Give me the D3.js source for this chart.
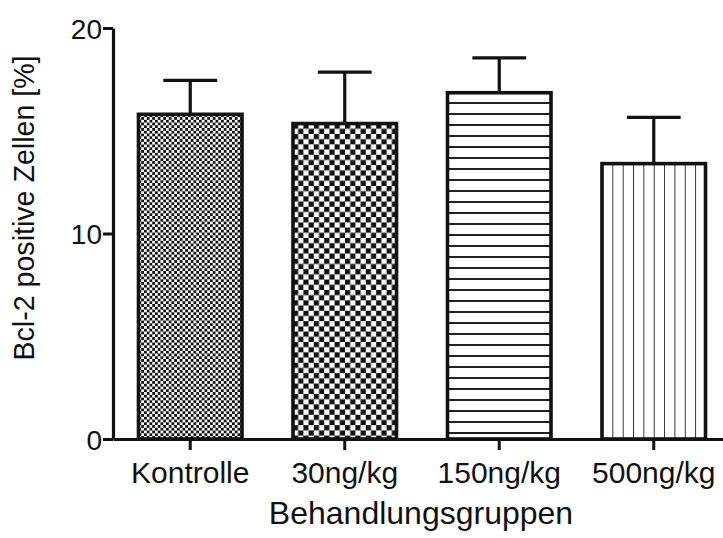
<!DOCTYPE html>
<html lang="de">
<head>
    <meta charset="UTF-8">
    <title>Bcl-2 positive Zellen</title>
    <script src="https://d3js.org/d3.v7.min.js"></script>
    <style>
        body {
            margin: 0;
            padding: 0;
            background: #fff;
        }
        svg text {
            font-family: "Liberation Sans", Arial, sans-serif;
            fill: #111;
        }
    </style>
</head>
<body>
    <div id="chart"></div>
    <script>
        // Daten
        const groups = ['Kontrolle', '30ng/kg', '150ng/kg', '500ng/kg'];
        const means = [15.8, 15.35, 16.85, 13.4];
        const errors = [1.65, 2.5, 1.7, 2.25];
        const fills = ['fineCheck', 'coarseCheck', 'hLines', 'vLines'];
        const yTicks = [0, 10, 20];

        const width = 723, height = 538;
        const margin = { top: 28, right: -8, bottom: 99, left: 113 };

        const svg = d3.select('#chart')
            .append('svg')
            .attr('width', width)
            .attr('height', height);

        const x = d3.scaleBand()
            .domain(groups)
            .range([margin.left, width - margin.right])
            .paddingInner(0.33)
            .paddingOuter(0.165);

        const y = d3.scaleLinear()
            .domain([0, 20])
            .range([height - margin.bottom, margin.top]);

        // Muster für die Balken
        const defs = svg.append('defs');

        function checker(id, i, s) {
            const p = defs.append('pattern').attr('id', id)
                .attr('patternUnits', 'userSpaceOnUse')
                .attr('x', x(groups[i])).attr('y', y(means[i]))
                .attr('width', s * 2).attr('height', s * 2);
            p.append('rect').attr('width', s * 2).attr('height', s * 2).attr('fill', '#fff');
            p.append('rect').attr('width', s).attr('height', s).attr('fill', '#111');
            p.append('rect').attr('x', s).attr('y', s).attr('width', s).attr('height', s).attr('fill', '#111');
        }

        function addPattern(id, i) {
            if (id === 'fineCheck') {
                checker(id, i, 2.75);
            } else if (id === 'coarseCheck') {
                checker(id, i, 5.2);
            } else if (id === 'hLines') {
                const s = 11;
                const p = defs.append('pattern').attr('id', id)
                    .attr('patternUnits', 'userSpaceOnUse')
                    .attr('x', 0).attr('y', Math.round(y(means[i])))
                    .attr('width', 20).attr('height', s);
                p.append('rect').attr('width', 20).attr('height', s).attr('fill', '#fff');
                p.append('rect').attr('x', 0).attr('y', s - 2)
                    .attr('width', 20).attr('height', 2)
                    .attr('fill', '#222');
            } else {
                const s = 10.35;
                const p = defs.append('pattern').attr('id', id)
                    .attr('patternUnits', 'userSpaceOnUse')
                    .attr('x', x(groups[i])).attr('y', 0)
                    .attr('width', s).attr('height', 20);
                p.append('rect').attr('width', s).attr('height', 20).attr('fill', '#fff');
                p.append('line').attr('y1', 0).attr('y2', 20)
                    .attr('x1', 0).attr('x2', 0)
                    .attr('stroke', '#222').attr('stroke-width', 1.8);
            }
        }
        fills.forEach((f, i) => addPattern(f, i));

        // Balken
        svg.selectAll('rect.bar')
            .data(groups)
            .join('rect')
            .attr('class', 'bar')
            .attr('x', d => x(d))
            .attr('y', (d, i) => y(means[i]))
            .attr('width', x.bandwidth())
            .attr('height', (d, i) => y(0) - y(means[i]))
            .attr('fill', (d, i) => `url(#${fills[i]})`)
            .attr('stroke', '#111')
            .attr('stroke-width', 3.6);

        // Fehlerbalken (nur nach oben)
        const cap = x.bandwidth() * 0.26;
        const eb = svg.selectAll('g.err')
            .data(groups)
            .join('g')
            .attr('class', 'err')
            .attr('stroke', '#111')
            .attr('stroke-width', 3.2);

        eb.append('line')
            .attr('x1', d => x(d) + x.bandwidth() / 2)
            .attr('x2', d => x(d) + x.bandwidth() / 2)
            .attr('y1', (d, i) => y(means[i]))
            .attr('y2', (d, i) => y(means[i] + errors[i]));

        eb.append('line')
            .attr('x1', d => x(d) + x.bandwidth() / 2 - cap)
            .attr('x2', d => x(d) + x.bandwidth() / 2 + cap)
            .attr('y1', (d, i) => y(means[i] + errors[i]))
            .attr('y2', (d, i) => y(means[i] + errors[i]));

        // Achsen
        const xAxis = svg.append('g')
            .attr('transform', `translate(0,${y(0)})`)
            .call(d3.axisBottom(x).tickSize(11).tickSizeOuter(0).tickPadding(0));
        xAxis.select('.domain').attr('stroke-width', 3.2).attr('stroke', '#111');
        xAxis.selectAll('.tick line').attr('stroke-width', 3).attr('stroke', '#111');
        xAxis.selectAll('.tick text')
            .attr('y', 44)
            .attr('dy', 0)
            .style('font-size', '30px');

        const yAxis = svg.append('g')
            .attr('transform', `translate(${margin.left},0)`)
            .call(d3.axisLeft(y).tickValues(yTicks).tickSize(10).tickSizeOuter(0).tickPadding(1));
        yAxis.select('.domain').attr('stroke-width', 3.2).attr('stroke', '#111');
        yAxis.selectAll('.tick line').attr('stroke-width', 3).attr('stroke', '#111');
        yAxis.selectAll('.tick text')
            .attr('dy', '0.36em')
            .style('font-size', '28px');

        // Achsentitel
        svg.append('text')
            .attr('x', 421)
            .attr('y', 524)
            .attr('text-anchor', 'middle')
            .style('font-size', '32px')
            .text('Behandlungsgruppen');

        svg.append('text')
            .attr('transform', 'translate(34,208) rotate(-90)')
            .attr('text-anchor', 'middle')
            .style('font-size', '28.6px')
            .text('Bcl-2 positive Zellen [%]');
    </script>
</body>
</html>
